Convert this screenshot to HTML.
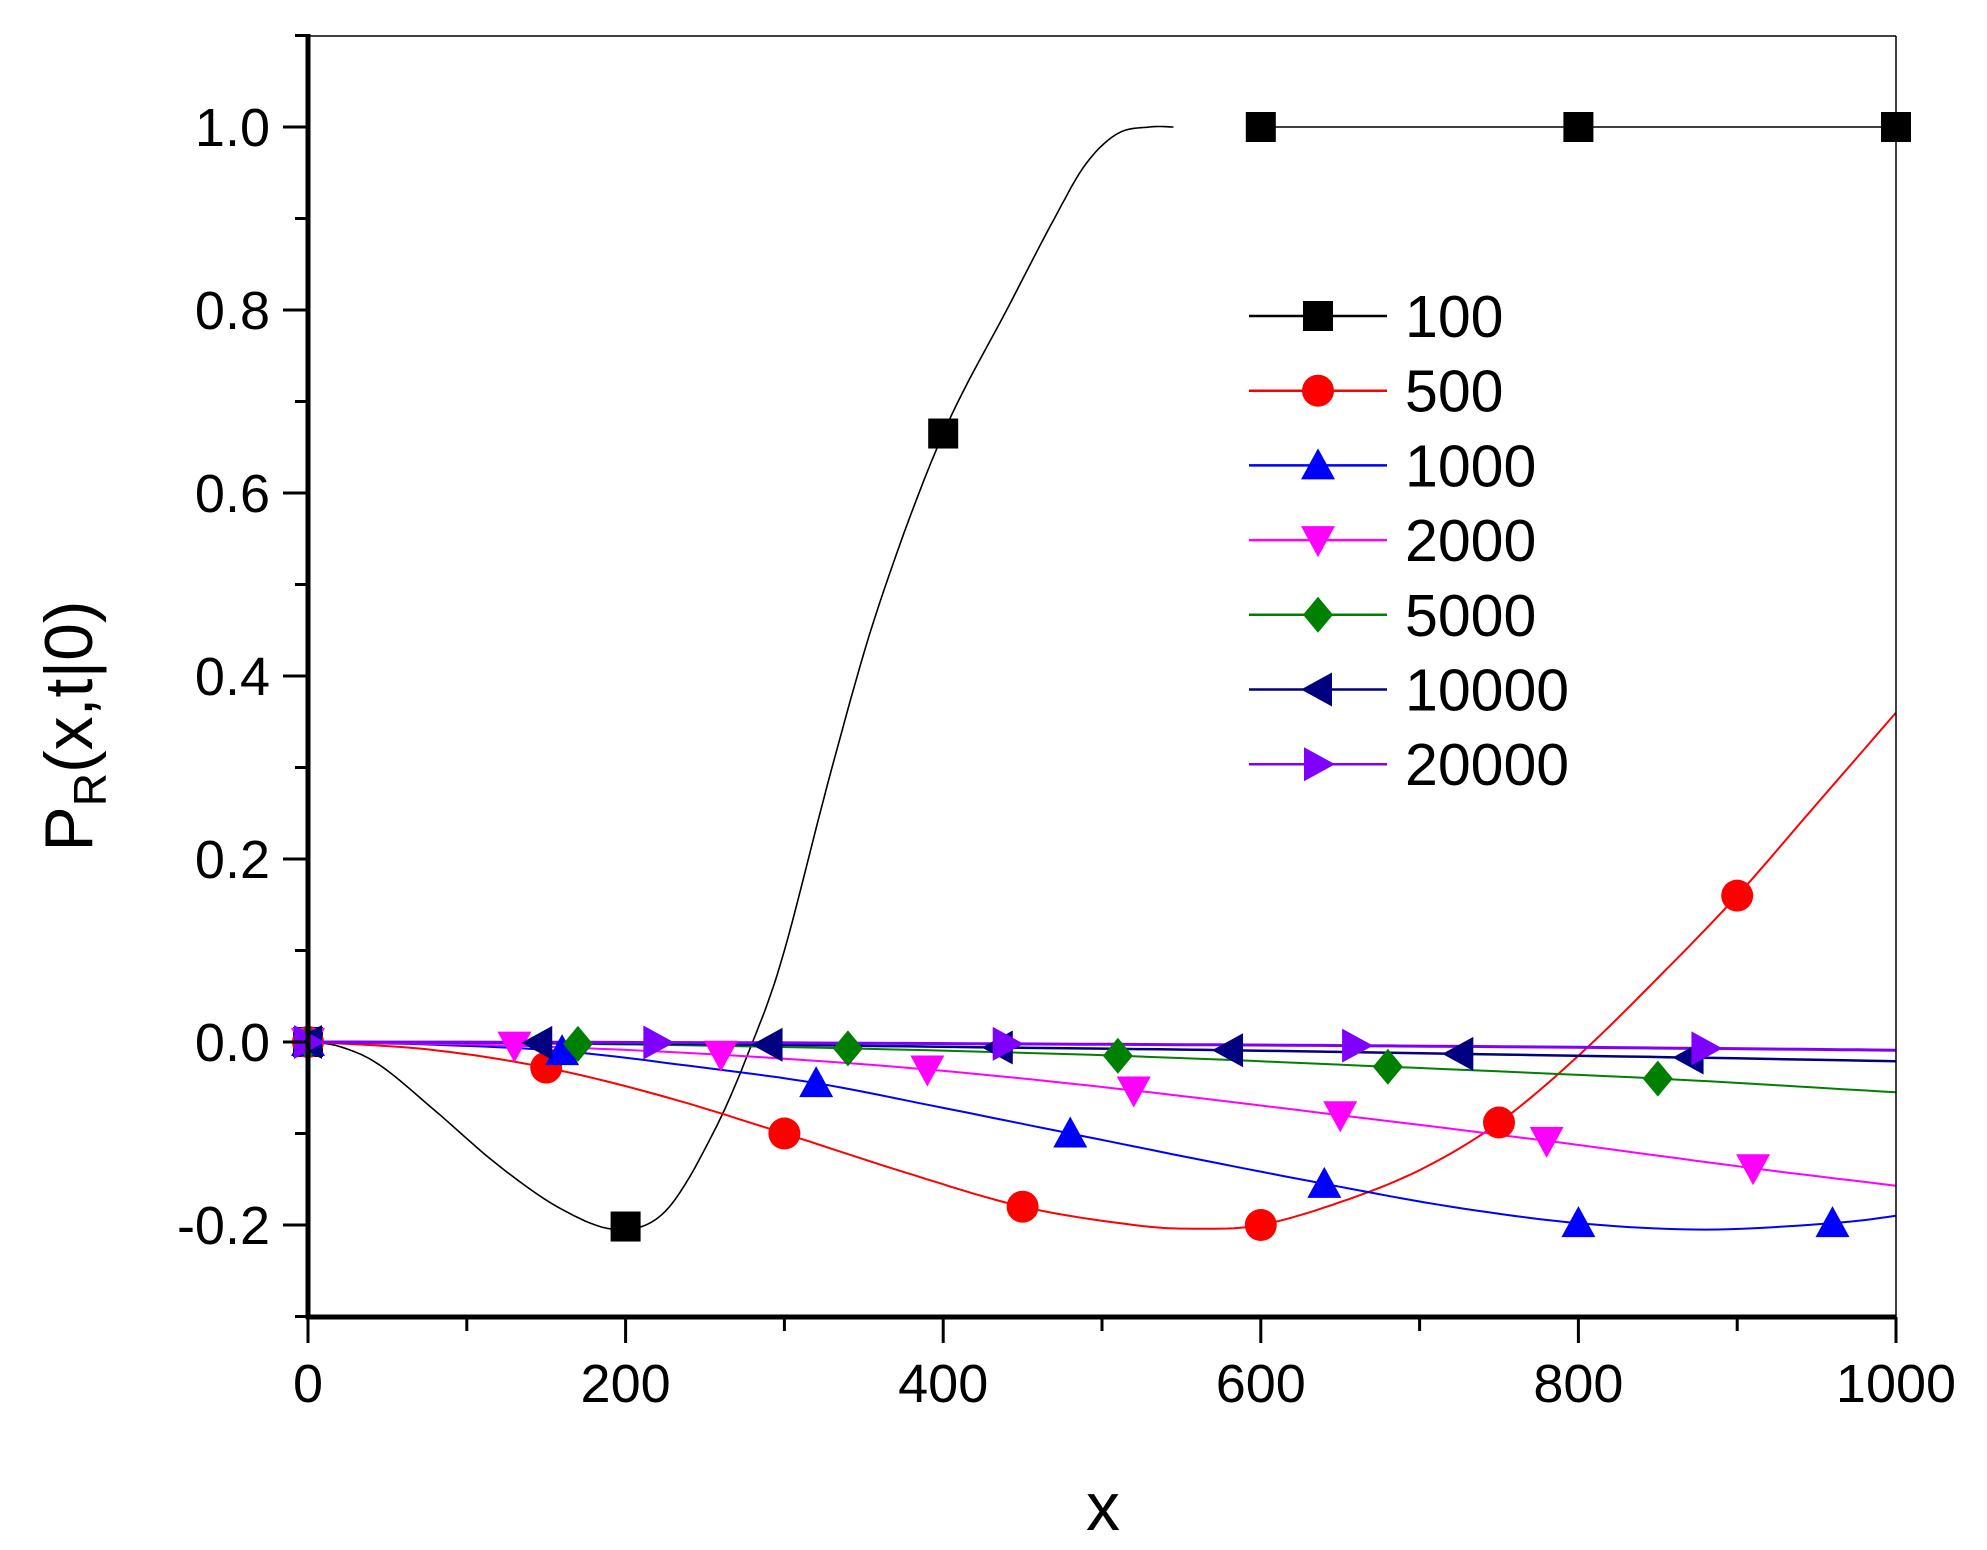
<!DOCTYPE html>
<html><head><meta charset="utf-8"><style>
html,body{margin:0;padding:0;background:#fff;}
svg{display:block;font-family:"Liberation Sans",Arial,sans-serif;}
</style></head><body>
<svg id="s" width="1987" height="1550" viewBox="0 0 1987 1550" xmlns="http://www.w3.org/2000/svg">
<rect width="1987" height="1550" fill="#fff"/>
<g id="plot"></g>
<g id="axes" stroke="#000" fill="none">
<line x1="308" y1="36" x2="1896" y2="36" stroke-width="1.5"/>
<line x1="1896" y1="36" x2="1896" y2="1317" stroke-width="1.5"/>
<line x1="308" y1="34" x2="308" y2="1319" stroke-width="5"/>
<line x1="306" y1="1317" x2="1896" y2="1317" stroke-width="5"/>
</g>
<g id="ticks" stroke="#000" stroke-width="3"></g>
<g id="labels" font-size="54" fill="#000"></g>
<text x="1103" y="1530" font-size="68" text-anchor="middle">x</text>
<text transform="translate(92,726) rotate(-90)" font-size="68" text-anchor="middle">P<tspan font-size="46" dy="14">R</tspan><tspan dy="-14">(x,t|0)</tspan></text>
<g id="legend"></g>
</svg>
<script>
const NS="http://www.w3.org/2000/svg";
const X=v=>308+v*1.588, Y=v=>1042-v*915;
function el(t,a,p){const e=document.createElementNS(NS,t);for(const k in a)e.setAttribute(k,a[k]);p.appendChild(e);return e;}
const ticks=document.getElementById('ticks'),labels=document.getElementById('labels');
for(let i=-3;i<=11;i++){const y=Y(i/10);const maj=(i%2==0);el('line',{x1:maj?283:295,y1:y,x2:308,y2:y},ticks);
 if(maj&&i<=10){const t=el('text',{x:270,y:y+19,'text-anchor':'end'},labels);t.textContent=(i/10).toFixed(1);}}
for(let i=0;i<=10;i++){const x=X(i*100);const maj=(i%2==0);el('line',{x1:x,y1:1317,x2:x,y2:maj?1343:1331},ticks);
 if(maj){const t=el('text',{x:x,y:1402,'text-anchor':'middle'},labels);t.textContent=i*100;}}
function spline(pts){let d='M'+X(pts[0][0])+','+Y(pts[0][1]);
 for(let i=0;i<pts.length-1;i++){const p0=pts[Math.max(0,i-1)],p1=pts[i],p2=pts[i+1],p3=pts[Math.min(pts.length-1,i+2)];
  for(let s=1;s<=10;s++){const t=s/10,t2=t*t,t3=t2*t;
   const f=(a,b,c,e)=>0.5*((2*b)+(-a+c)*t+(2*a-5*b+4*c-e)*t2+(-a+3*b-3*c+e)*t3);
   d+=' L'+X(f(p0[0],p1[0],p2[0],p3[0])).toFixed(1)+','+Y(f(p0[1],p1[1],p2[1],p3[1])).toFixed(1);}}
 return d;}
function interp(pts,x){for(let i=0;i<pts.length-1;i++){if(x>=pts[i][0]&&x<=pts[i+1][0]){const t=(x-pts[i][0])/(pts[i+1][0]-pts[i][0]);return pts[i][1]+t*(pts[i+1][1]-pts[i][1]);}}return pts[pts.length-1][1];}
function marker(type,cx,cy,c,p){const s=15;
 if(type=='sq')el('rect',{x:cx-s,y:cy-s,width:2*s,height:2*s,fill:c},p);
 else if(type=='ci')el('circle',{cx:cx,cy:cy,r:16,fill:c},p);
 else if(type=='up')el('polygon',{points:`${cx},${cy-17} ${cx-17},${cy+14} ${cx+17},${cy+14}`,fill:c},p);
 else if(type=='dn')el('polygon',{points:`${cx},${cy+17} ${cx-17},${cy-14} ${cx+17},${cy-14}`,fill:c},p);
 else if(type=='di')el('polygon',{points:`${cx},${cy-18} ${cx-15},${cy} ${cx},${cy+18} ${cx+15},${cy}`,fill:c},p);
 else if(type=='lt')el('polygon',{points:`${cx-17},${cy} ${cx+14},${cy-17} ${cx+14},${cy+17}`,fill:c},p);
 else if(type=='rt')el('polygon',{points:`${cx+17},${cy} ${cx-14},${cy-17} ${cx-14},${cy+17}`,fill:c},p);}
const plot=document.getElementById('plot');
const series=[
 {c:'#000',m:'sq',lab:'100',step:200,w:1.6,pts:[[0,0],[20,-0.005],[45,-0.025],[80,-0.075],[120,-0.135],[160,-0.183],[195,-0.205],[225,-0.185],[255,-0.1],[280,0],[300,0.1],[330,0.3],[360,0.48],[400,0.665],[440,0.8],[470,0.9],[490,0.96],[510,0.993],[530,1.0],[545,1.0]],ext:[[595,1],[1000,1]]},
 {c:'#f00',m:'ci',lab:'500',step:150,w:2,pts:[[0,0],[75,-0.008],[150,-0.028],[225,-0.06],[300,-0.1],[375,-0.142],[450,-0.18],[520,-0.2],[560,-0.204],[600,-0.2],[650,-0.175],[700,-0.14],[750,-0.088],[800,-0.015],[850,0.07],[900,0.16],[950,0.26],[1000,0.36]]},
 {c:'#00f',m:'up',lab:'1000',step:160,w:2,pts:[[0,0],[80,-0.003],[160,-0.01],[240,-0.026],[320,-0.045],[400,-0.072],[480,-0.1],[560,-0.128],[640,-0.155],[720,-0.18],[800,-0.198],[880,-0.205],[960,-0.198],[1000,-0.19]]},
 {c:'#f0f',m:'dn',lab:'2000',step:130,w:2,pts:[[0,0],[130,-0.004],[260,-0.014],[390,-0.03],[520,-0.053],[650,-0.08],[780,-0.108],[910,-0.138],[1000,-0.157]]},
 {c:'#008000',m:'di',lab:'5000',step:170,w:2,pts:[[0,0],[170,-0.002],[340,-0.007],[510,-0.015],[680,-0.027],[850,-0.04],[1000,-0.055]]},
 {c:'#000080',m:'lt',lab:'10000',step:145,w:2.5,pts:[[0,0],[145,-0.001],[290,-0.003],[435,-0.006],[580,-0.009],[725,-0.013],[870,-0.017],[1000,-0.021]]},
 {c:'#8000ff',m:'rt',lab:'20000',step:220,w:3,pts:[[0,0],[220,-0.0005],[440,-0.002],[660,-0.004],[880,-0.007],[1000,-0.009]]}
];
series.forEach(s=>{el('path',{d:spline(s.pts),stroke:s.c,'stroke-width':s.w,fill:'none'},plot);
 if(s.ext)el('path',{d:spline(s.ext),stroke:s.c,'stroke-width':s.w,fill:'none'},plot);});
series.forEach(s=>{
 for(let x=0;x<=1000;x+=s.step){let y=s.ext&&x>=595?1:interp(s.pts,x);if(s.ext&&x>=545&&x<595)continue;marker(s.m,X(x),Y(y),s.c,plot);}});
const lg=document.getElementById('legend');
series.forEach((s,i)=>{const y=316+i*74.7;
 el('line',{x1:1249,y1:y,x2:1387,y2:y,stroke:s.c,'stroke-width':2.5},lg);
 marker(s.m,1318,y,s.c,lg);
 const t=el('text',{x:1405,y:y+21,'font-size':59,fill:'#000'},lg);t.textContent=s.lab;});
</script>
</body></html>
